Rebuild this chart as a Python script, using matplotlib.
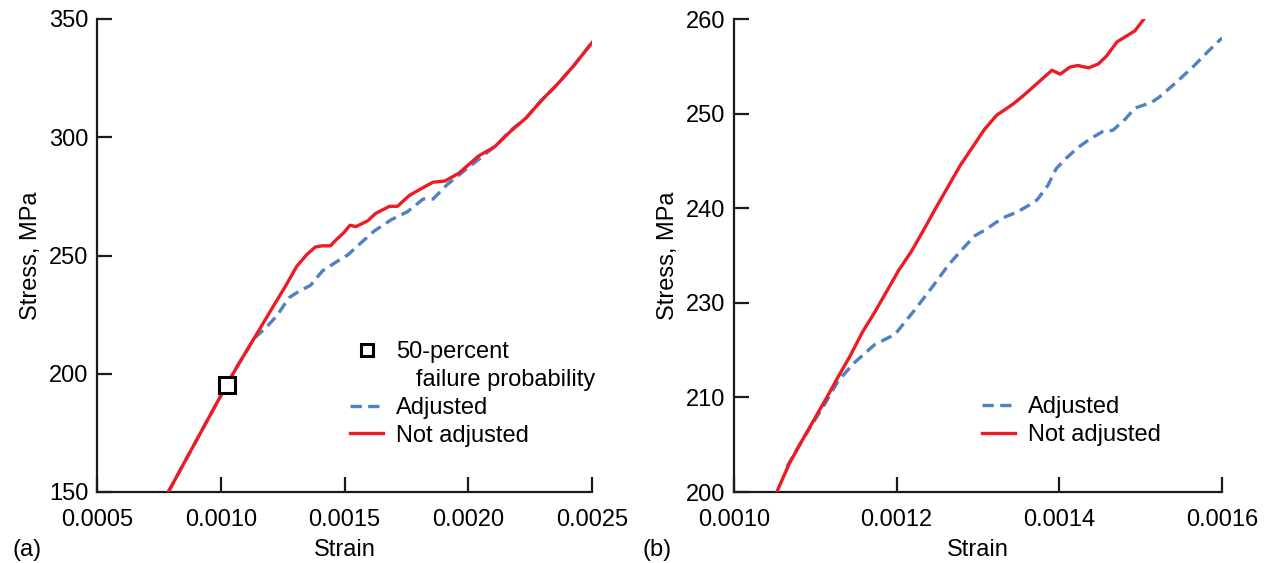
import matplotlib
matplotlib.use("Agg")
import matplotlib.pyplot as plt
from matplotlib.lines import Line2D

plt.rcParams['font.family'] = ['Liberation Sans', 'DejaVu Sans']

RED = '#ED1C24'
BLUE = '#4F81C4'

# ---- Panel (a) data ----
a_red_strain = [0.000788, 0.001024, 0.001067, 0.001115, 0.001163, 0.001211, 0.001259,
                0.001307, 0.001347, 0.001382, 0.001411, 0.001443, 0.001467, 0.001498,
                0.001522, 0.001546, 0.001594, 0.001626, 0.001682, 0.001714, 0.001762,
                0.001826, 0.001858, 0.001906, 0.001962, 0.002042, 0.002106, 0.002169,
                0.002233, 0.002297, 0.002361, 0.002425, 0.002500]
a_red_stress = [150.0, 195.3, 203.2, 211.5, 219.9, 228.3, 236.6,
                245.4, 250.3, 253.6, 254.1, 254.1, 256.7, 259.7,
                262.8, 262.2, 264.7, 267.8, 270.8, 270.8, 275.4,
                279.2, 281.0, 281.5, 284.8, 292.1, 295.9, 302.3,
                308.1, 315.7, 322.5, 330.1, 340.0]

a_blue_strain = [0.000788, 0.001024, 0.001067, 0.001115, 0.001131, 0.001179, 0.001227,
                 0.001275, 0.001315, 0.001363, 0.001411, 0.001467, 0.001514, 0.001562,
                 0.001618, 0.001690, 0.001754, 0.001818, 0.001858, 0.001914, 0.001986,
                 0.002050, 0.002113, 0.002169, 0.002233, 0.002297, 0.002361, 0.002425,
                 0.002500]
a_blue_stress = [150.0, 195.3, 203.2, 211.5, 214.6, 219.1, 224.5,
                 232.1, 234.8, 237.4, 243.5, 247.3, 250.3, 254.9,
                 260.2, 265.2, 268.5, 273.9, 273.9, 279.9, 286.0,
                 291.3, 296.6, 302.7, 308.1, 315.7, 322.5, 330.1,
                 340.0]

fail_strain = [0.001024]
fail_stress = [195.3]

a_xticks = [0.0005, 0.0010, 0.0015, 0.0020, 0.0025]
a_xticklabels = ['0.0005', '0.0010', '0.0015', '0.0020', '0.0025']
a_yticks = [150, 200, 250, 300, 350]

# ---- Panel (b) data ----
b_red_strain = [0.0010526, 0.001068, 0.001083, 0.001098, 0.001113, 0.001128, 0.001143,
                0.001158, 0.001173, 0.001188, 0.001203, 0.001218, 0.001233, 0.001248,
                0.001263, 0.001278, 0.001293, 0.001308, 0.001323, 0.001343, 0.001356,
                0.001368, 0.001391, 0.001401, 0.001413, 0.001423, 0.001436, 0.001448,
                0.001458, 0.001471, 0.001493, 0.001504]
b_red_stress = [200.0, 203.6, 206.4, 209.1, 211.8, 214.6, 217.3,
                220.3, 222.8, 225.5, 228.2, 230.5, 233.2, 236.0,
                238.7, 241.4, 243.7, 246.0, 247.8, 249.2, 250.3,
                251.4, 253.5, 253.0, 253.9, 254.1, 253.8, 254.3,
                255.3, 257.1, 258.5, 260.0]

b_blue_strain = [0.001065, 0.001083, 0.001098, 0.001113, 0.001128, 0.001148, 0.001173,
                 0.001198, 0.001223, 0.001243, 0.001263, 0.001278, 0.001296, 0.001308,
                 0.001331, 0.001348, 0.001363, 0.001373, 0.001386, 0.001396, 0.001408,
                 0.001423, 0.001438, 0.001453, 0.001466, 0.001481, 0.001493, 0.001513,
                 0.001523, 0.001543, 0.001564, 0.001584, 0.001600]
b_blue_stress = [203.2, 206.4, 208.9, 211.4, 214.1, 216.4, 218.7,
                 220.0, 223.2, 225.9, 228.7, 230.5, 232.5, 233.2,
                 234.8, 235.5, 236.4, 237.1, 238.9, 241.0, 242.3,
                 243.7, 244.8, 245.7, 245.9, 247.3, 248.7, 249.4,
                 250.1, 251.9, 253.9, 256.0, 257.6]

b_xticks = [0.0010, 0.0012, 0.0014, 0.0016]
b_xticklabels = ['0.0010', '0.0012', '0.0014', '0.0016']
b_yticks = [200, 212, 224, 236, 248, 260]
b_yticklabels = ['200', '210', '230', '240', '250', '260']

FS = 17
LW = 2.4
DASH = (0, (3.4, 1.9))
W, H = 1268, 563
fig = plt.figure(figsize=(W / 100, H / 100), dpi=100)

def box(l, t, r, b):
    return [l / W, 1 - b / H, (r - l) / W, (b - t) / H]

def fpos(x, y):
    return (x / W, 1 - y / H)

axA = fig.add_axes(box(97, 19, 592, 492))
axB = fig.add_axes(box(734, 19, 1222, 492))

def style(ax):
    for s in ['top', 'right']:
        ax.spines[s].set_visible(False)
    for s in ['left', 'bottom']:
        ax.spines[s].set_linewidth(1.6)
        ax.spines[s].set_color('#1a1a1a')
    ax.tick_params(direction='in', length=11, width=1.6, labelsize=FS, color='#1a1a1a')
    ax.tick_params(axis='x', pad=12.5)
    ax.tick_params(axis='y', pad=6)
    ax.set_xlabel('Strain', fontsize=FS, labelpad=5.5)
    ax.set_ylabel('Stress, MPa', fontsize=FS, labelpad=5)

# Panel (a)
axA.plot(a_blue_strain, a_blue_stress, color=BLUE, lw=LW, ls=DASH, zorder=2)
axA.plot(a_red_strain, a_red_stress, color=RED, lw=LW, zorder=3)
axA.plot(fail_strain, fail_stress, ls='none', marker='s', ms=11, mfc='white',
         mec='black', mew=2.2, zorder=4)
axA.set_xlim(0.0005, 0.0025)
axA.set_ylim(150, 350)
axA.set_xticks(a_xticks)
axA.set_xticklabels(a_xticklabels)
axA.set_yticks(a_yticks)
style(axA)

legkw = dict(frameon=False, fontsize=FS, handlelength=1.4, handletextpad=0.55,
             labelspacing=0.25, borderpad=0, borderaxespad=0, loc='upper left',
             bbox_transform=fig.transFigure)

hA = [Line2D([], [], ls='none', marker='s', ms=8, mfc='white', mec='black', mew=2.2),
      Line2D([], [], ls='none'),
      Line2D([], [], color=BLUE, lw=LW, ls=DASH),
      Line2D([], [], color=RED, lw=LW)]
axA.legend(hA, ['50-percent', '   failure probability', 'Adjusted', 'Not adjusted'],
           bbox_to_anchor=fpos(350, 341), **legkw)

# Panel (b)
axB.plot(b_blue_strain, b_blue_stress, color=BLUE, lw=LW, ls=DASH, zorder=2)
axB.plot(b_red_strain, b_red_stress, color=RED, lw=LW, zorder=3)
axB.set_xlim(0.0010, 0.0016)
axB.set_ylim(200, 260)
axB.set_xticks(b_xticks)
axB.set_xticklabels(b_xticklabels)
axB.set_yticks(b_yticks)
axB.set_yticklabels(b_yticklabels)
style(axB)
hB = [Line2D([], [], color=BLUE, lw=LW, ls=DASH),
      Line2D([], [], color=RED, lw=LW)]
axB.legend(hB, ['Adjusted', 'Not adjusted'], bbox_to_anchor=fpos(982, 396), **legkw)

fig.text(*fpos(13, 550), '(a)', fontsize=FS, va='center', ha='left')
fig.text(*fpos(643, 550), '(b)', fontsize=FS, va='center', ha='left')

fig.savefig('out.png', dpi=100)
